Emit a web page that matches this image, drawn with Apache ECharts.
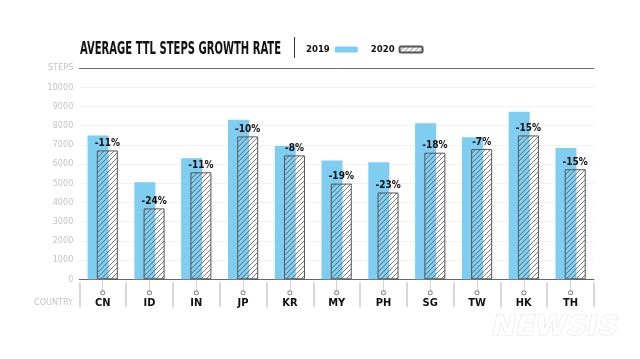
<!DOCTYPE html>
<html><head><meta charset="utf-8">
<script src="https://cdn.jsdelivr.net/npm/echarts@6/dist/echarts.min.js"></script>
<style>html,body{margin:0;padding:0;background:#fff}#c{width:640px;height:359px}</style>
</head><body><div id="c"></div>
<script>
const countries = ['CN','ID','IN','JP','KR','MY','PH','SG','TW','HK','TH'];
const steps2019 = [7480,5050,6300,8310,6940,6190,6090,8120,7390,8720,6830];
const steps2020 = [6710,3690,5570,7440,6450,4980,4520,6590,6780,7490,5730];
const growth = ['-11%','-24%','-11%','-10%','-8%','-19%','-23%','-18%','-7%','-15%','-15%'];
const seriesNames = ['2019','2020'];
const titleText = 'AVERAGE TTL STEPS GROWTH RATE';
const watermark = 'NEWSIS';

const COND = '"Liberation Sans Narrow","DejaVu Sans Condensed","Roboto Condensed","Roboto",sans-serif';

// hatch pattern
const s = 5;
const pc = document.createElement('canvas');
pc.width = s; pc.height = s;
const px = pc.getContext('2d');
px.strokeStyle = '#555';
px.lineWidth = 0.8;
px.beginPath();
px.moveTo(0, s); px.lineTo(s, 0);
px.moveTo(-1, 1); px.lineTo(1, -1);
px.moveTo(s - 1, s + 1); px.lineTo(s + 1, s - 1);
px.stroke();
const hatch = { image: pc, repeat: 'repeat' };

function fitScale(text, font, target) {
  const c = document.createElement('canvas').getContext('2d');
  c.font = font;
  return target / c.measureText(text).width;
}
const titleFont = 'bold 17px ' + COND;
const titleScale = fitScale(titleText, titleFont, 201);
const wmFont = 'italic bold 26px ' + COND;
const wmScale = fitScale(watermark, wmFont, 126);

const chart = echarts.init(document.getElementById('c'), null, { renderer: 'canvas' });
chart.setOption({
  animation: false,
  backgroundColor: '#fff',
  grid: { left: 79.3, right: 46, top: 68, bottom: 79.7 },
  legend: {
    data: seriesNames,
    left: 306, top: 44.5, padding: 0,
    align: 'right',
    itemWidth: 23, itemHeight: 6, itemGap: 13,
    textStyle: { fontFamily: COND, fontWeight: 'bold', fontSize: 9.5, color: '#111' }
  },
  xAxis: [
    {
      type: 'category', data: countries, position: 'bottom',
      axisLine: { lineStyle: { color: '#666', width: 1 } },
      axisTick: { show: true, alignWithLabel: true, interval: 0, length: 12, lineStyle: { color: '#aaa', type: 'dotted' } },
      axisLabel: {
        margin: 11, interval: 0,
        formatter: v => '{o|}\n{n|' + v + '}',
        rich: {
          o: { width: 3, height: 3, borderWidth: 1, borderColor: '#888', borderRadius: 3, backgroundColor: '#fff', lineHeight: 5 },
          n: { fontFamily: COND, fontWeight: 'bold', fontSize: 11, color: '#111', lineHeight: 15 }
        }
      }
    },
    {
      type: 'category', data: countries, position: 'bottom', offset: 3,
      axisLine: { show: false },
      axisTick: { show: true, interval: 0, length: 25, lineStyle: { color: '#ccc', width: 1.5 } },
      axisLabel: { show: false }
    },
    {
      type: 'category', data: countries, position: 'top',
      axisLine: { show: true, lineStyle: { color: '#666', width: 1 } },
      axisTick: { show: false }, axisLabel: { show: false }
    }
  ],
  yAxis: {
    type: 'value', min: 0, max: 11000, interval: 1000,
    axisLine: { show: false }, axisTick: { show: false },
    splitLine: { lineStyle: { color: '#f2f2f2' } },
    axisLabel: {
      margin: 6, color: '#c4c4c4', fontFamily: COND, fontSize: 9,
      formatter: v => v === 11000 ? 'STEPS' : String(v)
    }
  },
  series: [
    {
      name: seriesNames[0], type: 'bar', data: steps2019, barWidth: 21, barGap: '-56%',
      itemStyle: { color: '#7fcdf1' }
    },
    {
      name: seriesNames[1], type: 'bar', data: steps2020, barWidth: 21,
      itemStyle: { color: hatch, borderColor: '#555', borderWidth: 1 },
      label: {
        show: true, position: 'top', distance: 2,
        formatter: p => growth[p.dataIndex],
        fontFamily: COND, fontWeight: 'bold', fontSize: 10, color: '#111'
      }
    }
  ],
  graphic: [
    {
      type: 'text', left: 80, top: 41, scaleX: titleScale,
      style: { text: titleText, font: titleFont, fill: '#111' }
    },
    {
      type: 'line', shape: { x1: 294.5, y1: 37, x2: 294.5, y2: 58 },
      style: { stroke: '#333', lineWidth: 1 }
    },
    {
      type: 'text', right: 640 - 73, top: 298,
      style: { text: 'COUNTRY', font: '9px ' + COND, fill: '#c4c4c4', align: 'right' }
    },
    {
      type: 'text', left: 492, top: 315, scaleX: wmScale,
      style: {
        text: watermark, font: wmFont, fill: '#fff',
        stroke: 'rgba(0,0,0,0.12)', lineWidth: 1,
        shadowColor: 'rgba(0,0,0,0.85)', shadowBlur: 6
      }
    }
  ]
});
</script></body></html>
